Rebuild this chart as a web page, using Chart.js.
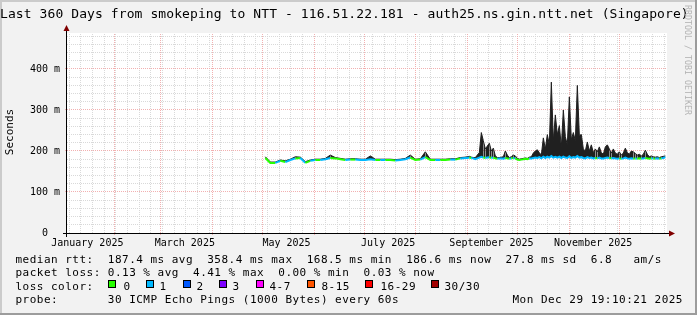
<!DOCTYPE html>
<html lang="en">
<head>
<meta charset="utf-8">
<title>Smokeping NTT</title>
<script src="https://cdn.jsdelivr.net/npm/chart.js@4.4.1/dist/chart.umd.min.js"></script>
<style>
    body { margin: 0; background: #f2f2f2; }
    #Page { position: relative; width: 697px; height: 315px; overflow: hidden; font-family: "DejaVu Sans Mono", monospace; color: #000; }
    #graph { position: absolute; left: 0; top: 0; }
    .row { position: absolute; white-space: pre; font-size: 11px; line-height: 14px; letter-spacing: 0.48px; }
    .sq { position: absolute; top: 280px; width: 6px; height: 6px; border: 1px solid #000; }
    #title { position: absolute; left: 0; top: 6px; white-space: pre; font-size: 13px; line-height: 16px; letter-spacing: 0.09px; }
    #ylabel { position: absolute; left: -20px; top: 125px; width: 60px; height: 14px; line-height: 14px; font-size: 11px; text-align: center; transform: rotate(-90deg); }
    #mark { position: absolute; left: 628px; top: 55px; width: 120px; height: 10px; line-height: 10px; font-size: 8.3px; color: #b4b4b4; text-align: center; transform: rotate(90deg); white-space: pre; }
</style>
</head>
<body>
<div id="Page">
    <canvas id="graph" width="697" height="315"></canvas>
    <div id="title">Last 360 Days from smokeping to NTT - 116.51.22.181 - auth25.ns.gin.ntt.net (Singapore)</div>
    <div id="ylabel">Seconds</div>
    <div id="mark">RRDTOOL / TOBI OETIKER</div>
    <div class="row" style="left:15.5px; top:252.5px">median rtt:  187.4 ms avg  358.4 ms max  168.5 ms min  186.6 ms now  27.8 ms sd  6.8   am/s</div>
    <div class="row" style="left:15.5px; top:266.2px">packet loss: 0.13 % avg  4.41 % max  0.00 % min  0.03 % now</div>
    <div class="row" style="left:15.5px; top:279.8px">loss color:</div>
    <div id="lossLegend"></div>
    <div class="row" style="left:15.5px; top:293.4px">probe:       30 ICMP Echo Pings (1000 Bytes) every 60s</div>
    <div class="row" style="left:512.5px; top:293.4px">Mon Dec 29 19:10:21 2025</div>
</div>

<script type="text/javascript">
// days since 2025-01-01 00:00
const days = [121.8,124.8,127.8,130.8,133.8,136.8,139.8,142.8,145.8,148.8,151.8,154.8,157.8,160.8,163.8,166.8,169.8,172.8,175.8,178.8,
    181.8,184.8,187.8,190.8,193.8,196.8,199.8,202.8,205.8,208.8,211.8,214.8,217.8,220.8,223.8,226.8,229.8,232.8,235.8,238.8,241.8,
    243.0,244.2,245.4,246.6,247.8,249.0,250.2,251.4,252.6,253.8,255.0,256.2,257.4,258.6,259.8,261.0,262.2,263.4,264.6,265.8,
    267.0,268.2,269.4,270.6,271.8,273.0,274.2,275.4,276.6,277.8,279.0,280.2,281.4,282.6,283.8,285.0,286.2,287.4,288.6,289.8,
    291.0,292.2,293.4,294.6,295.8,297.0,298.2,299.4,300.6,301.8,303.0,304.2,305.4,306.6,307.8,309.0,310.2,311.4,312.6,313.8,
    315.0,316.2,317.4,318.6,319.8,321.0,322.2,323.4,324.6,325.8,327.0,328.2,329.4,330.6,331.8,333.0,334.2,335.4,336.6,337.8,
    339.0,340.2,341.4,342.6,343.8,345.0,346.2,347.4,348.6,349.8,351.0,352.2,353.4,354.6,355.8,357.0,358.2,359.4,360.6,361.8];
// median rtt (ms)
const median = [183,171,171,176,173,178,182,183,171,176,178,178,180,183,182,180,178,179,179,178,
    178,180,178,178,178,178,177,178,180,184,178,179,185,178,178,178,178,179,179,182,183,
    183,184,183,182,180,182,184,186,184,183,184,185,183,184,182,181,182,182,181,183,
    182,181,182,183,182,179,178,179,180,181,180,182,182,183,184,183,185,182,186,183,
    186,184,188,184,186,184,186,183,186,184,183,187,183,185,184,188,184,185,183,182,
    185,183,184,182,183,182,184,182,182,183,184,183,182,183,182,181,182,181,182,184,
    182,181,182,181,182,181,182,181,182,183,182,181,182,182,181,182,181,182,183,185];
// top of the smoke (ms)
const smokeTop = [186,173,173,178,176,180,186,185,174,178,180,180,182,190,184,182,180,181,181,180,
    180,188,180,180,180,180,179,180,182,190,180,181,198,180,180,180,180,181,181,184,185,
    186,187,185,184,184,190,196,245,225,205,212,219,200,207,188,184,184,185,186,200,
    190,184,186,190,188,182,180,181,182,183,182,185,186,195,200,203,196,190,232,205,
    240,215,368,225,288,240,262,210,300,235,215,332,228,245,225,360,238,240,205,200,
    222,200,215,196,205,198,210,196,192,210,215,205,195,205,195,192,198,190,195,207,
    196,192,200,198,194,190,192,188,192,202,192,186,188,186,185,186,184,186,187,188];
// lost pings out of 30
const loss = [0,0,0,1,0,1,1,0,1,0,1,0,1,1,0,0,0,1,0,1,
    1,1,1,0,1,0,0,1,1,1,0,0,1,0,0,1,0,0,1,0,1,
    1,1,0,1,1,1,1,1,1,0,1,1,0,1,0,0,1,1,1,1,
    0,0,1,0,1,0,0,0,0,0,0,0,1,1,1,1,1,1,1,1,
    1,1,1,1,1,1,1,1,1,1,1,1,1,1,1,1,1,1,1,1,
    1,1,1,1,1,0,1,1,1,1,1,1,0,1,1,1,1,0,1,1,
    1,1,1,1,0,1,0,0,1,1,0,0,0,1,0,1,1,0,1,1];

const lossLabels = ['0', '1', '2', '3', '4-7', '8-15', '16-29', '30/30'];
const lossColors = ['#26ff00', '#00b8ff', '#0059ff', '#7e00ff', '#ff00ff', '#ff5500', '#ff0000', '#a10000'];
const monthLabels = ['January 2025', 'March 2025', 'May 2025', 'July 2025', 'September 2025', 'November 2025'];
const monthLabelDays = [15, 73.5, 134.5, 195.5, 257.5, 318.5];
const monthStarts = [31, 59, 90, 120, 151, 181, 212, 243, 273, 304, 334];
const yTicks = [0, 100, 200, 300, 400];

function lossColor(n) {
    if (n <= 3) return lossColors[n];
    if (n <= 7) return lossColors[4];
    if (n <= 15) return lossColors[5];
    if (n <= 29) return lossColors[6];
    return lossColors[7];
}

// loss color legend boxes
const sqLeft = [108, 146, 183, 219, 256, 307, 365, 431];
const txtLeft = [123.5, 159.5, 196.5, 232.5, 269.5, 321.5, 380.5, 444.5];
let legendHTML = '';
for (let i = 0; i < lossLabels.length; i++) {
    legendHTML += '<div class="sq" style="left:' + sqLeft[i] + 'px;background:' + lossColors[i] + '"></div>';
    legendHTML += '<div class="row" style="left:' + txtLeft[i] + 'px;top:279.8px">' + lossLabels[i] + '</div>';
}
document.getElementById('lossLegend').innerHTML = legendHTML;

// frame, canvas, grid and axes the rrdtool way
const rrdFrame = {
    id: 'rrdFrame',
    beforeDraw(chart) {
        const c = chart.ctx, a = chart.chartArea;
        c.save();
        c.fillStyle = '#f2f2f2';
        c.fillRect(0, 0, 697, 315);
        c.fillStyle = '#cbcbcb';
        c.fillRect(0, 0, 697, 2);
        c.fillRect(0, 0, 2, 315);
        c.fillStyle = '#9c9c9c';
        c.fillRect(0, 313, 697, 2);
        c.fillRect(695, 0, 2, 315);
        c.fillStyle = '#ffffff';
        c.fillRect(a.left, a.top, a.right - a.left, a.bottom - a.top);
        c.restore();
    },
    beforeDatasetsDraw(chart) {
        const c = chart.ctx, a = chart.chartArea;
        const xs = chart.scales.x, ys = chart.scales.y;
        c.save();
        c.lineWidth = 1;
        c.setLineDash([1, 1]);
        // minor grid
        c.strokeStyle = '#d9d9d9';
        for (let d = 4; d < 363; d += 7) {
            const px = Math.floor(xs.getPixelForValue(d)) + 0.5;
            if (px < a.left || px > a.right) continue;
            c.beginPath(); c.moveTo(px, a.bottom); c.lineTo(px, a.top); c.stroke();
        }
        for (let v = 20; v < ys.max; v += 20) {
            if (v % 100 === 0) continue;
            const py = Math.floor(ys.getPixelForValue(v)) + 0.5;
            c.beginPath(); c.moveTo(a.left, py); c.lineTo(a.right, py); c.stroke();
        }
        // major grid
        c.strokeStyle = '#f2b0b0';
        monthStarts.forEach(function (d) {
            const px = Math.floor(xs.getPixelForValue(d)) + 0.5;
            c.beginPath(); c.moveTo(px, a.bottom + 2); c.lineTo(px, a.top); c.stroke();
        });
        yTicks.forEach(function (v) {
            if (v === 0) return;
            const py = Math.floor(ys.getPixelForValue(v)) + 0.5;
            c.beginPath(); c.moveTo(a.left - 2, py); c.lineTo(a.right, py); c.stroke();
        });
        c.restore();
    },
    afterDraw(chart) {
        const c = chart.ctx, a = chart.chartArea;
        c.save();
        c.strokeStyle = '#000';
        c.lineWidth = 1;
        c.beginPath();
        c.moveTo(a.left - 4, a.bottom + 0.5); c.lineTo(a.right + 4, a.bottom + 0.5);
        c.moveTo(a.left - 0.5, a.bottom + 4); c.lineTo(a.left - 0.5, a.top - 4);
        c.stroke();
        c.fillStyle = '#800000';
        c.beginPath();
        c.moveTo(a.right + 2, a.bottom - 2.5); c.lineTo(a.right + 2, a.bottom + 3.5); c.lineTo(a.right + 8, a.bottom + 0.5);
        c.closePath(); c.fill();
        c.beginPath();
        c.moveTo(a.left - 3.5, a.top - 2); c.lineTo(a.left + 2.5, a.top - 2); c.lineTo(a.left - 0.5, a.top - 8);
        c.closePath(); c.fill();
        c.restore();
    }
};

const tickFont = { family: 'DejaVu Sans Mono', size: 10 };
const ctx = document.getElementById('graph');
const myChart = new Chart(ctx, {
    type: 'line',
    data: {
        datasets: [
            {
                label: 'median rtt',
                data: days.map(function (d, i) { return { x: d, y: median[i] }; }),
                borderColor: lossColors[0],
                borderWidth: 2,
                pointRadius: 0,
                fill: false,
                segment: { borderColor: function (s) { return lossColor(loss[s.p1DataIndex]); } }
            },
            {
                label: 'smoke',
                data: days.map(function (d, i) { return { x: d, y: smokeTop[i] }; }),
                borderColor: '#202020',
                backgroundColor: '#202020',
                borderWidth: 1,
                pointRadius: 0,
                fill: '-1'
            }
        ]
    },
    options: {
        responsive: false,
        animation: false,
        devicePixelRatio: 1,
        layout: { padding: { left: 0, top: 33, right: 30, bottom: 0 } },
        plugins: { legend: { display: false }, tooltip: { enabled: false } },
        scales: {
            x: {
                type: 'linear', min: 2.8, max: 362.8,
                grid: { display: false, drawTicks: false }, border: { display: false },
                afterFit: function (s) { s.height = 82; },
                afterBuildTicks: function (s) { s.ticks = monthLabelDays.map(function (v) { return { value: v }; }); },
                ticks: { autoSkip: false, maxRotation: 0, padding: 4, font: tickFont, color: '#000',
                    callback: function (v, i) { return monthLabels[i]; } }
            },
            y: {
                min: 0, max: 487.8,
                grid: { display: false, drawTicks: false }, border: { display: false },
                afterFit: function (s) { s.width = 67; },
                afterBuildTicks: function (s) { s.ticks = yTicks.map(function (v) { return { value: v }; }); },
                ticks: { padding: 7, font: tickFont, color: '#000',
                    callback: function (v) { return v === 0 ? '0  ' : v + ' m'; } }
            }
        }
    },
    plugins: [rrdFrame]
});
</script>
</body>
</html>
